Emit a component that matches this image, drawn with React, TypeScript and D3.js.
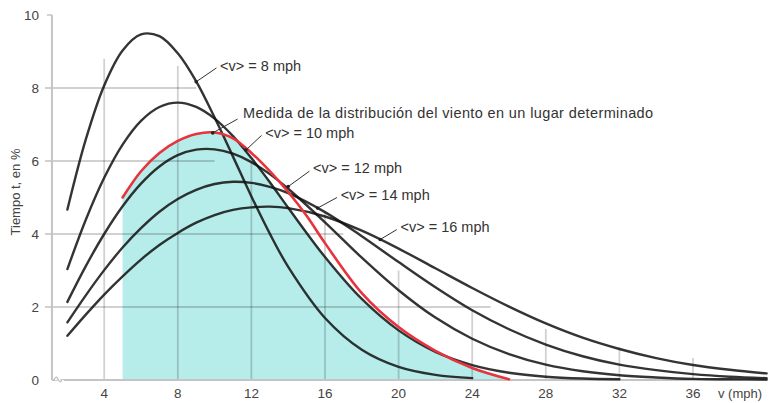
import React from "react";
import * as d3 from "d3";

// wind speed samples (mph)
const speeds = [2, 3, 4, 5, 6, 7, 8, 9, 10, 11, 12, 13, 14, 16, 18, 20, 22, 24, 26, 28, 30, 32, 34, 36, 38, 40];

// time t (%) for each mean speed <v>
const v8 = [4.67, 6.59, 8.07, 9.03, 9.47, 9.42, 8.95, 8.18, 7.19, 6.12, 5.03, 4.01, 3.1, 1.7, 0.83, 0.36, 0.14, 0.05];
const v10 = [3.04, 4.39, 5.54, 6.45, 7.1, 7.48, 7.6, 7.48, 7.16, 6.68, 6.08, 5.42, 4.72, 3.37, 2.22, 1.36, 0.77, 0.41, 0.2, 0.09, 0.04, 0.02];
const v12 = [2.14, 3.12, 4.0, 4.76, 5.38, 5.85, 6.16, 6.31, 6.32, 6.2, 5.97, 5.64, 5.24, 4.32, 3.35, 2.46, 1.71, 1.13, 0.71, 0.42, 0.24, 0.13, 0.07, 0.03, 0.02, 0.01];
const v14 = [1.58, 2.32, 3.01, 3.63, 4.16, 4.61, 4.96, 5.21, 5.37, 5.43, 5.4, 5.29, 5.12, 4.6, 3.94, 3.23, 2.54, 1.91, 1.39, 0.97, 0.65, 0.42, 0.27, 0.16, 0.09, 0.05];
const v16 = [1.21, 1.79, 2.34, 2.84, 3.3, 3.7, 4.03, 4.31, 4.52, 4.66, 4.73, 4.75, 4.71, 4.48, 4.09, 3.6, 3.06, 2.52, 2.01, 1.55, 1.16, 0.85, 0.6, 0.41, 0.28, 0.18];

// measured distribution at the site (red) and the shaded area under it
const siteSpeeds = [5, 6, 7, 8, 9, 10, 11, 12, 13, 14, 15, 16, 18, 20, 22, 24, 26];
const siteValues = [5.0, 5.72, 6.22, 6.55, 6.74, 6.78, 6.62, 6.22, 5.72, 5.15, 4.5, 3.75, 2.38, 1.45, 0.8, 0.33, 0.02];
const shadeValues = [5.0, 5.72, 6.22, 6.55, 6.74, 6.78, 6.62, 6.12, 5.47, 4.77, 4.07, 3.37, 2.2, 1.35, 0.75, 0.33, 0.0];

const xTicks = [4, 8, 12, 16, 20, 24, 28, 32, 36];
const xGridTop = [8.8, 8.6, 6.0, 4.6, 3.0, 1.9, 1.4, 0.9, 0.6];
const yTicks = [0, 2, 4, 6, 8, 10];
const yGridEnd = [0, 25, 17, 10, 9, 0];

const labels = [
  { text: "<v> = 8 mph", at: [9.0, 8.17], to: [10.1, 8.55], pos: [10.3, 8.6] },
  { text: "Medida de la distribución del viento en un lugar determinado", at: [9.9, 6.77], to: [11.25, 7.15], pos: [11.55, 7.32] },
  { text: "<v> = 10 mph", at: [11.7, 6.3], to: [12.55, 6.7], pos: [12.75, 6.77] },
  { text: "<v> = 12 mph", at: [14.0, 5.3], to: [15.15, 5.72], pos: [15.35, 5.8] },
  { text: "<v> = 14 mph", at: [15.6, 4.71], to: [16.65, 5.0], pos: [16.85, 5.07] },
  { text: "<v> = 16 mph", at: [19.0, 3.85], to: [19.9, 4.12], pos: [20.1, 4.19] },
];

const series = [v8, v10, v12, v14, v16];

const font = "'Liberation Sans', Arial, sans-serif";

export default function App() {
  const width = 770;
  const height = 403;

  const x = d3.scaleLinear().domain([0, 40]).range([30.6, 766.6]);
  const y = d3.scaleLinear().domain([0, 10]).range([380, 15]);
  const x0 = 1.16;

  const line = d3
    .line<[number, number]>()
    .x((d) => x(d[0]))
    .y((d) => y(d[1]))
    .curve(d3.curveCatmullRom.alpha(0.5));

  const area = d3
    .area<[number, number]>()
    .x((d) => x(d[0]))
    .y0(y(0))
    .y1((d) => y(d[1]))
    .curve(d3.curveCatmullRom.alpha(0.5));

  const pts = (xs: number[], vs: number[]) => vs.map((v, i) => [xs[i], v] as [number, number]);

  const gridColor = "rgba(0,0,0,0.18)";

  return (
    <svg
      width={width}
      height={height}
      style={{ position: "absolute", left: 0, top: 0, background: "#fff" }}
      fontFamily={font}
    >
      {/* shaded measured area */}
      <path d={area(pts(siteSpeeds, shadeValues)) || ""} fill="#b6ecea" />

      {/* grid */}
      {xTicks.map((t, i) => (
        <line key={"gx" + t} x1={x(t)} x2={x(t)} y1={y(0)} y2={y(xGridTop[i])} stroke={gridColor} strokeWidth={1.8} />
      ))}
      {yTicks.map((t, i) =>
        yGridEnd[i] > 0 ? (
          <line key={"gy" + t} x1={x(x0) - 7} x2={x(yGridEnd[i])} y1={y(t)} y2={y(t)} stroke={gridColor} strokeWidth={1.8} />
        ) : null
      )}

      {/* axes */}
      <line x1={x(x0)} x2={x(x0)} y1={y(0)} y2={y(10)} stroke="#c4c4c4" strokeWidth={2} />
      <line x1={x(x0) - 5} x2={x(x0)} y1={y(10)} y2={y(10)} stroke="#c4c4c4" strokeWidth={1.5} />
      <line x1={x(x0)} x2={x(40)} y1={y(0)} y2={y(0)} stroke="#c4c4c4" strokeWidth={2} />
      <path d={`M${x(x0) + 3},${y(0)} q2,-5 4,0 q2,5 4,0`} fill="none" stroke="#fff" strokeWidth={3} />
      <path d={`M${x(x0) + 2},${y(0)} q2,-5 4,-1 q2,5 4,1`} fill="none" stroke="#bbb" strokeWidth={1.2} />

      {/* theoretical curves */}
      {series.map((s, i) => (
        <path
          key={"s" + i}
          d={line(pts(speeds, s)) || ""}
          fill="none"
          stroke="#111"
          strokeOpacity={0.85}
          strokeWidth={2.4}
          strokeLinecap="round"
        />
      ))}

      {/* measured curve */}
      <path
        d={line(pts(siteSpeeds, siteValues)) || ""}
        fill="none"
        stroke="#e8323c"
        strokeWidth={2.6}
        strokeLinecap="round"
      />

      {/* annotations */}
      {labels.map((l) => (
        <g key={l.text}>
          <line x1={x(l.at[0])} y1={y(l.at[1])} x2={x(l.to[0])} y2={y(l.to[1])} stroke="#333" strokeWidth={1} />
          <circle cx={x(l.at[0])} cy={y(l.at[1])} r={1.8} fill="#222" />
          <text x={x(l.pos[0])} y={y(l.pos[1])} dy="0.35em" fontSize={14.5} fill="#333" textLength={l.text.length > 20 ? 410 : undefined}>
            {l.text}
          </text>
        </g>
      ))}

      {/* tick labels */}
      {xTicks.map((t) => (
        <text key={"tx" + t} x={x(t)} y={398} textAnchor="middle" fontSize={13.5} fill="#444">
          {t}
        </text>
      ))}
      {yTicks.map((t) => (
        <text key={"ty" + t} x={39} y={y(t)} dy="0.35em" textAnchor="end" fontSize={13.5} fill="#444">
          {t}
        </text>
      ))}
      <text x={718} y={398} fontSize={13} fill="#444">
        v (mph)
      </text>
      <text transform="translate(20,192) rotate(-90)" textAnchor="middle" fontSize={13} fill="#444">
        Tiempo t, en %
      </text>
    </svg>
  );
}
